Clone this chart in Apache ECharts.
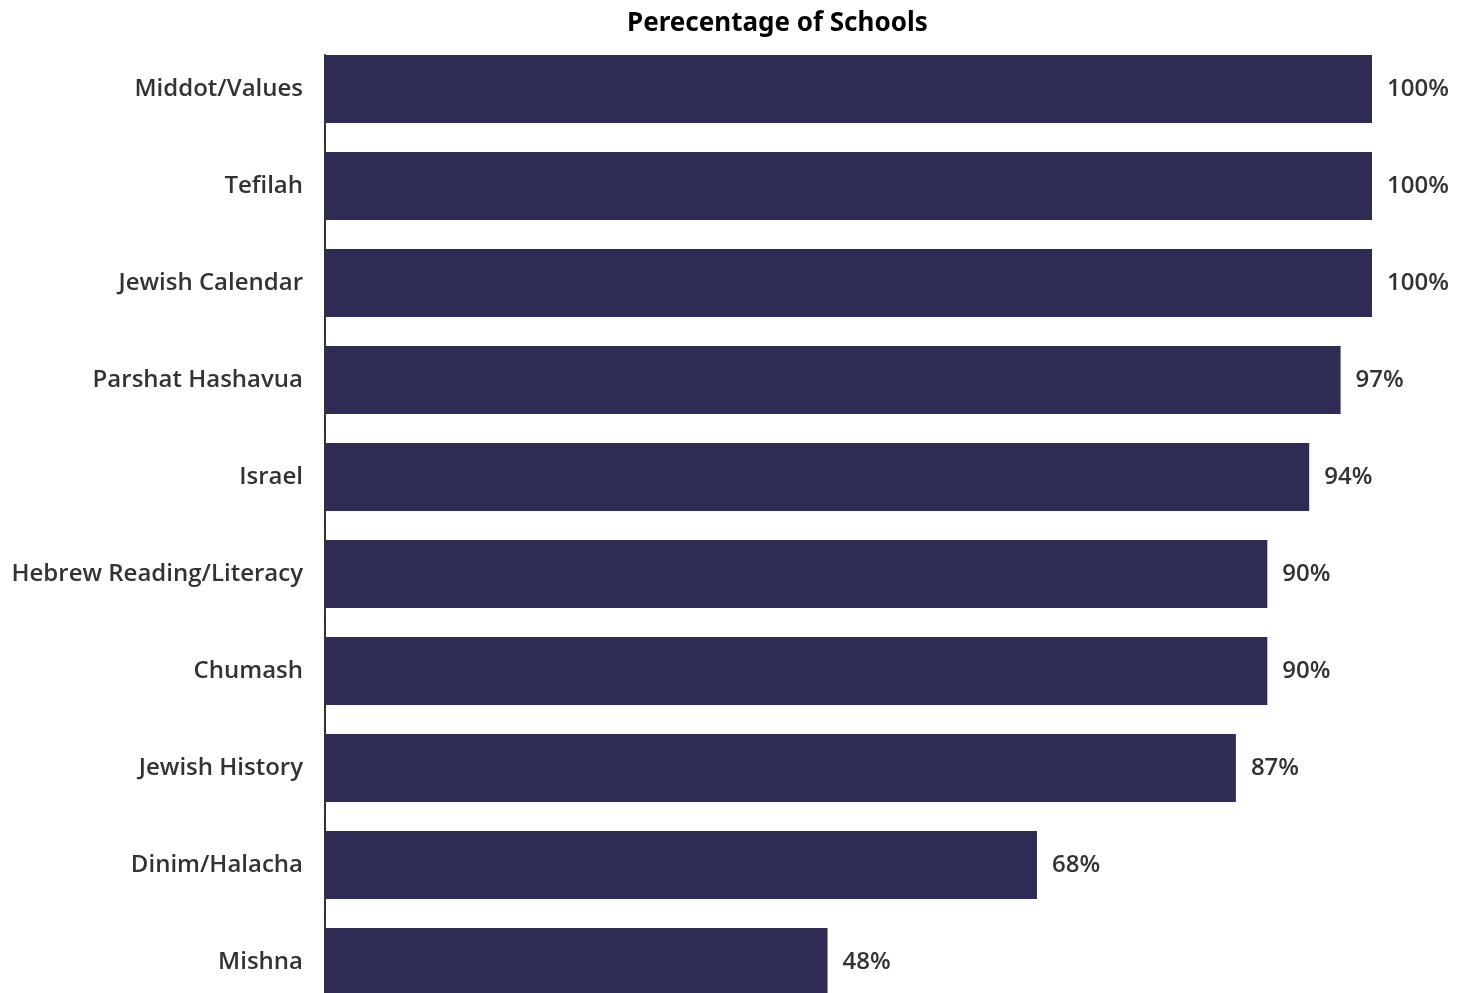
<!DOCTYPE html>
<html>
<head>
<meta charset="utf-8">
<script src="https://cdn.jsdelivr.net/npm/echarts@6/dist/echarts.min.js"></script>
<style>
  html, body { margin: 0; padding: 0; background: #fff; }
  #chart { width: 1468px; height: 993px; }
</style>
</head>
<body>
<div id="chart"></div>
<script>
// Subjects taught, top to bottom
const categories = [
  'Middot/Values', 'Tefilah', 'Jewish Calendar', 'Parshat Hashavua', 'Israel',
  'Hebrew Reading/Literacy', 'Chumash', 'Jewish History', 'Dinim/Halacha', 'Mishna'
];
// Share of schools teaching each subject (%)
const percentages = [100, 100, 100, 97, 94, 90, 90, 87, 68, 48];

const labelFont = {
  fontFamily: 'Open Sans', fontWeight: 600, fontSize: 24, color: '#333',
  padding: [4, 0, 0, 0]
};

const chart = echarts.init(document.getElementById('chart'), null, { renderer: 'canvas' });

chart.setOption({
  animation: false,
  title: {
    text: 'Perecentage of Schools',
    left: 622,
    top: 6,
    textStyle: { fontFamily: 'Noto Sans', fontWeight: 'bold', fontSize: 26, color: '#000' }
  },
  grid: [
    // bars; the last row runs past the bottom edge of the page
    { left: 325, right: 96, top: 40.5, height: 970, outerBoundsMode: 'none', containLabel: false },
    // baseline that starts at the top edge of the first bar
    { left: 325, right: 96, top: 55, bottom: 0, outerBoundsMode: 'none', containLabel: false }
  ],
  xAxis: [
    { gridIndex: 0, type: 'value', min: 0, max: 100, show: false },
    { gridIndex: 1, type: 'value', min: 0, max: 100, show: false }
  ],
  yAxis: [
    {
      gridIndex: 0,
      type: 'category',
      data: categories,
      inverse: true,
      axisLine: { show: false },
      axisTick: { show: false },
      axisLabel: Object.assign({ margin: 22 }, labelFont)
    },
    {
      gridIndex: 1,
      type: 'value',
      min: 0, max: 1,
      axisLine: { show: true, lineStyle: { color: '#333', width: 2 } },
      axisTick: { show: false },
      axisLabel: { show: false },
      splitLine: { show: false }
    }
  ],
  series: [{
    type: 'bar',
    xAxisIndex: 0,
    yAxisIndex: 0,
    data: percentages,
    barCategoryGap: '30%',
    itemStyle: { color: '#2e2b55' },
    label: Object.assign({
      show: true,
      position: 'right',
      distance: 15,
      formatter: p => p.value + '%'
    }, labelFont)
  }]
});
</script>
</body>
</html>
